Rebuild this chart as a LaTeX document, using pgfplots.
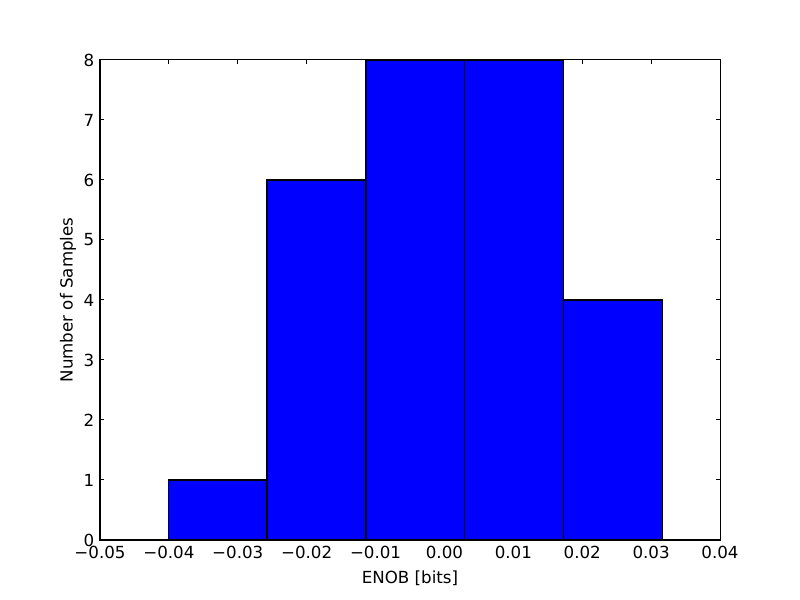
\documentclass[border=0pt]{standalone}
\usepackage{fontspec}
\setmainfont{DejaVu Sans}
\usepackage{pgfplots}
\pgfplotsset{compat=1.18}
\pgfplotstableread{
x0 x1 h
-0.0401 -0.02575 1
-0.02575 -0.0114 6
-0.0114 0.00295 8
0.00295 0.0173 8
0.0173 0.03165 4
}\bins
\begin{document}
\fontsize{12.5}{15}\selectfont
\begin{tikzpicture}
\useasboundingbox (0,0) rectangle (600pt,450pt);
\begin{axis}[
  at={(75pt,45pt)}, anchor=south west,
  scale only axis, width=465pt, height=360pt,
  xmin=-0.05, xmax=0.04, ymin=0, ymax=8,
  scaled x ticks=false, scaled y ticks=false,
  xtick={-0.05,-0.04,-0.03,-0.02,-0.01,0,0.01,0.02,0.03,0.04},
  xticklabels={−0.05,−0.04,−0.03,−0.02,−0.01,0.00,0.01,0.02,0.03,0.04},
  ytick={0,1,2,3,4,5,6,7,8},
  yticklabels={0,1,2,3,4,5,6,7,8},
  tick align=inside,
  major tick length=3pt,
  tick style={black, line width=0.75pt},
  axis line style={line width=0.75pt},
  xlabel={ENOB [bits]},
  ylabel={Number of Samples},
  xlabel style={at={(axis description cs:0.5,-0.079)}, anchor=center},
  ylabel style={at={(axis description cs:-0.0516,0.5)}, anchor=center},
  /pgf/number format/assume math mode=true,
]
\addplot[fill=blue, draw=none] coordinates {(-0.0401,0) (-0.0401,1) (-0.02575,1) (-0.02575,0)} --cycle;
\addplot[fill=blue, draw=none] coordinates {(-0.02575,0) (-0.02575,6) (-0.0114,6) (-0.0114,0)} --cycle;
\addplot[fill=blue, draw=none] coordinates {(-0.0114,0) (-0.0114,8) (0.00295,8) (0.00295,0)} --cycle;
\addplot[fill=blue, draw=none] coordinates {(0.00295,0) (0.00295,8) (0.0173,8) (0.0173,0)} --cycle;
\addplot[fill=blue, draw=none] coordinates {(0.0173,0) (0.0173,4) (0.03165,4) (0.03165,0)} --cycle;
\addplot[draw=black, line width=0.9pt, mark=none] coordinates {(-0.0401,0) (-0.0401,1) (-0.02575,1) (-0.02575,0)} --cycle;
\addplot[draw=black, line width=0.9pt, mark=none] coordinates {(-0.02575,0) (-0.02575,6) (-0.0114,6) (-0.0114,0)} --cycle;
\addplot[draw=black, line width=0.9pt, mark=none] coordinates {(-0.0114,0) (-0.0114,8) (0.00295,8) (0.00295,0)} --cycle;
\addplot[draw=black, line width=0.9pt, mark=none] coordinates {(0.00295,0) (0.00295,8) (0.0173,8) (0.0173,0)} --cycle;
\addplot[draw=black, line width=0.9pt, mark=none] coordinates {(0.0173,0) (0.0173,4) (0.03165,4) (0.03165,0)} --cycle;
\end{axis}
\end{tikzpicture}
\end{document}
